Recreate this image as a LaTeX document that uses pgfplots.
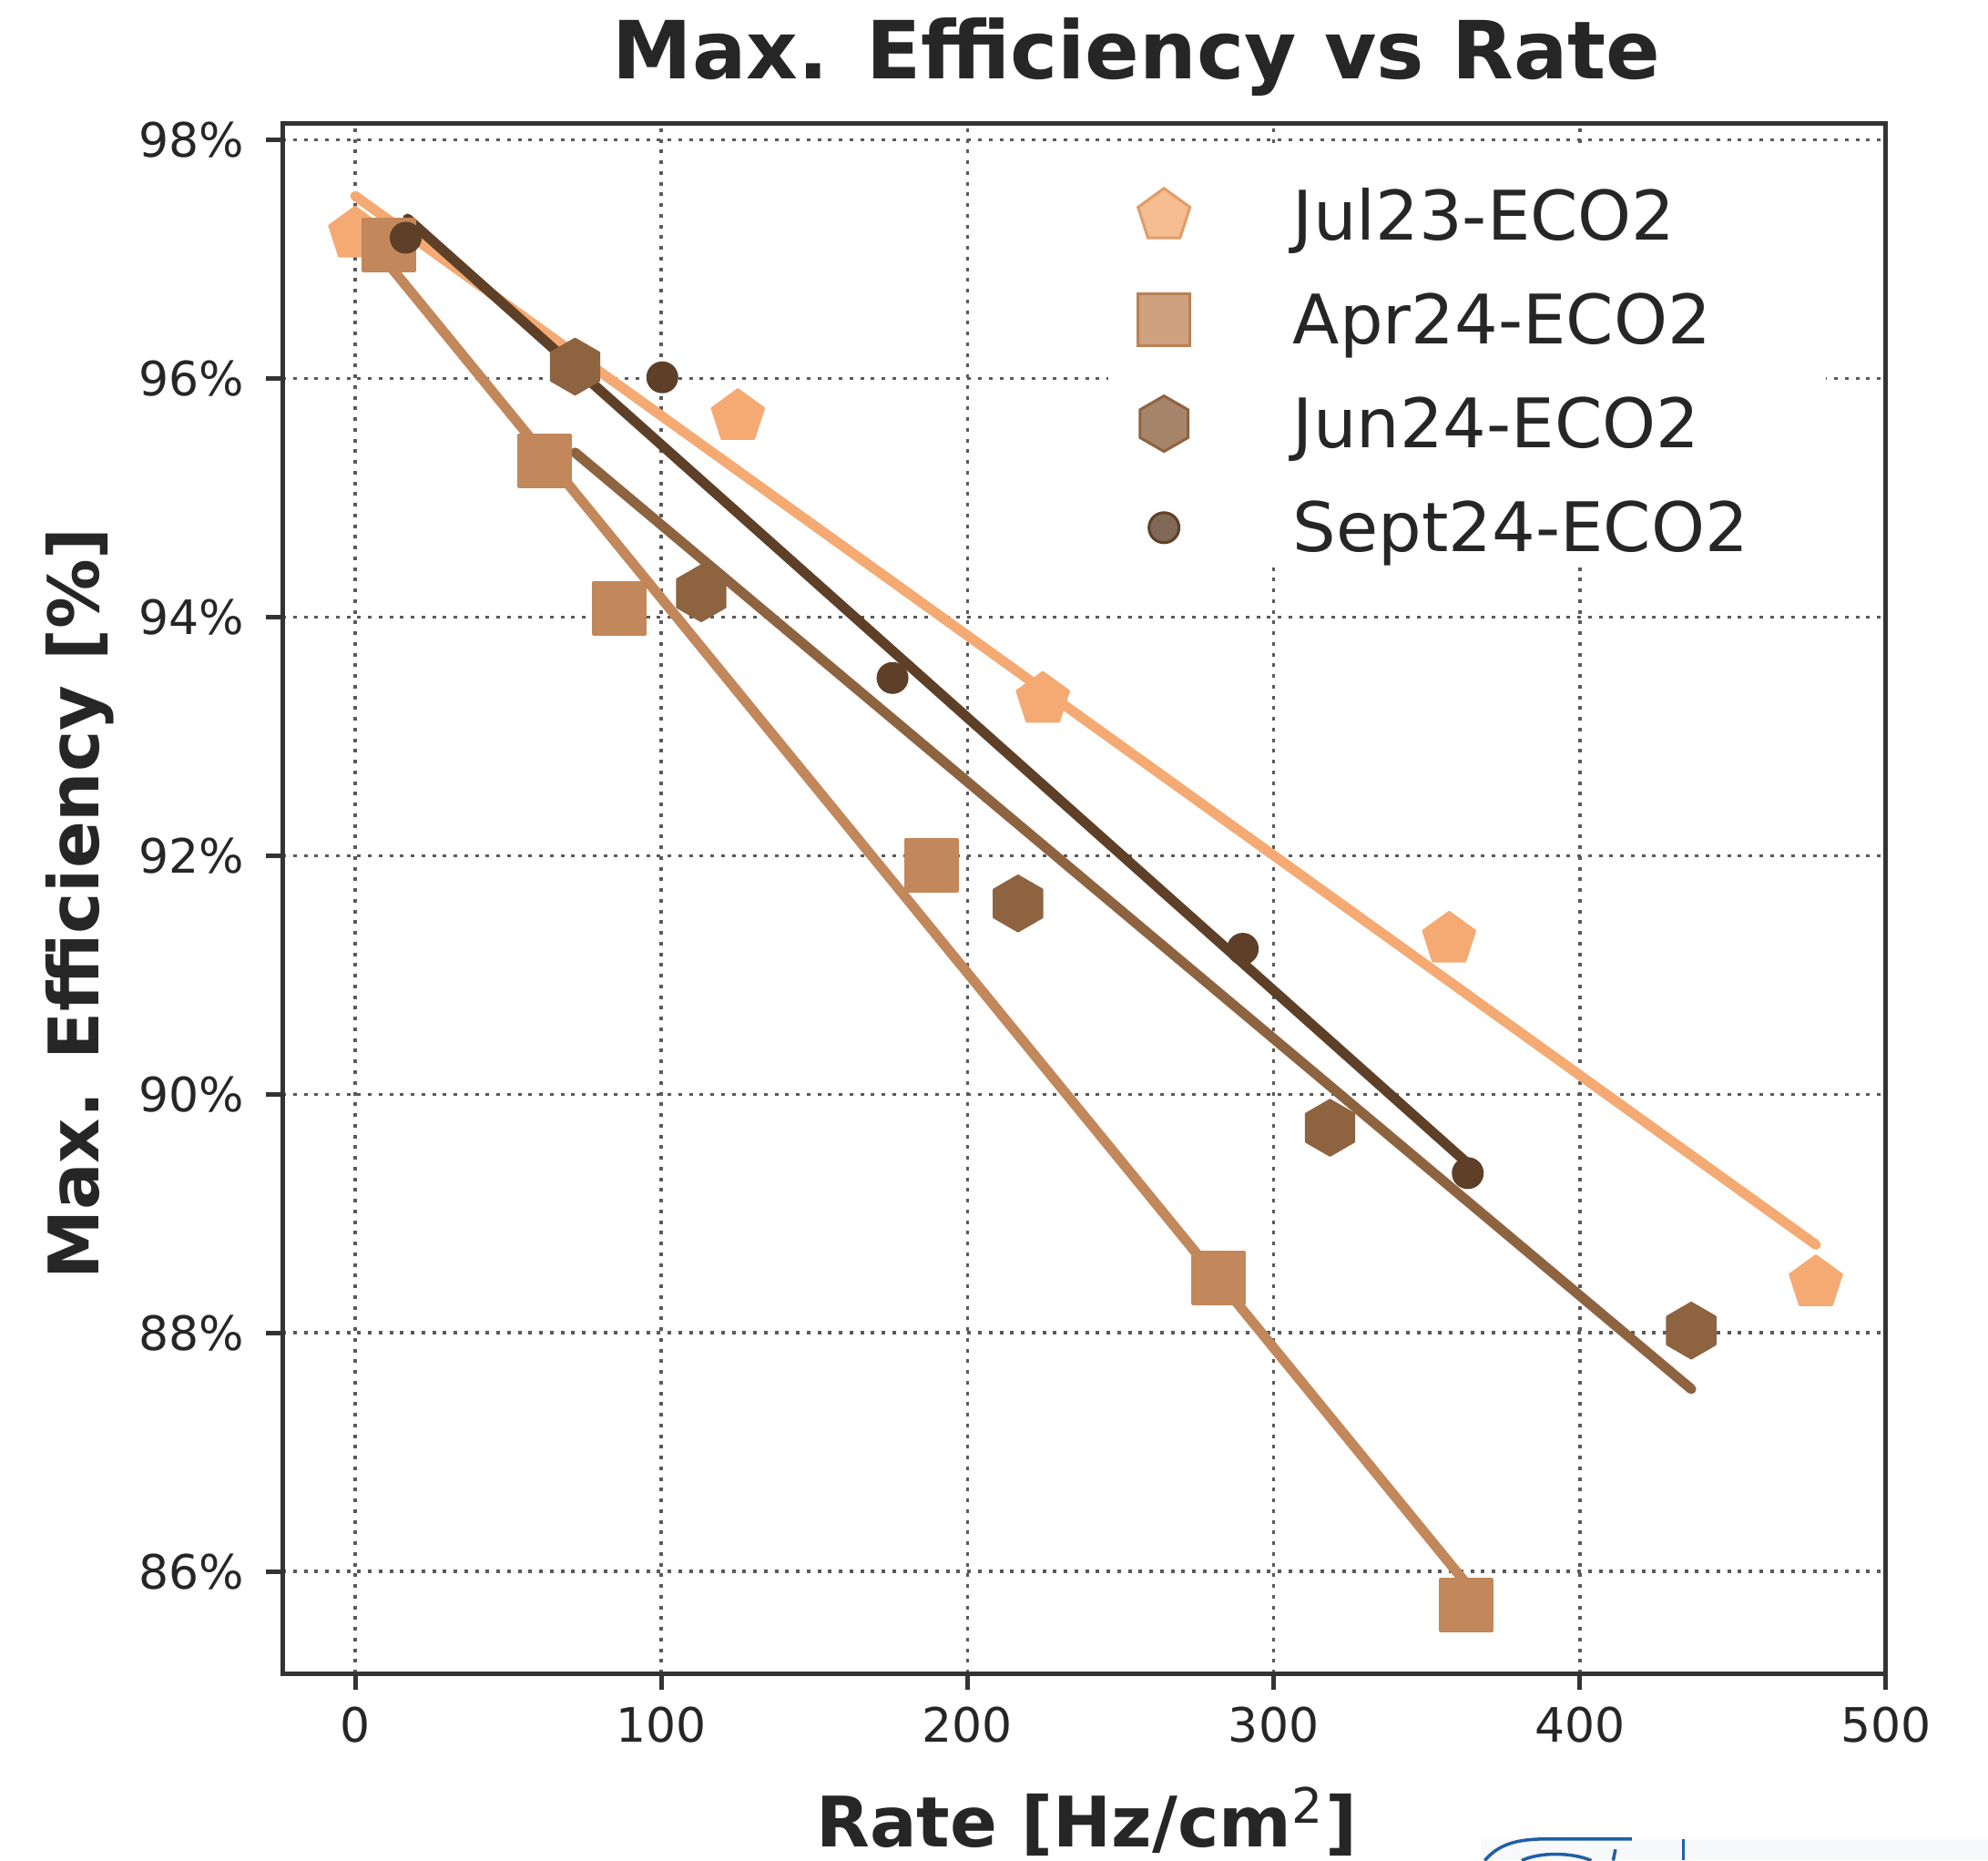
\documentclass[border=0pt]{standalone}
\usepackage{pgfplots}
\pgfplotsset{compat=1.18}
\usepackage{fontspec}
\setmainfont{DejaVu Sans}
\definecolor{txt}{HTML}{262626}
\definecolor{spine}{HTML}{333333}
\definecolor{gridc}{HTML}{5A5A5A}
\definecolor{cjul}{HTML}{F4AA72}
\definecolor{capr}{HTML}{C2875A}
\definecolor{cjun}{HTML}{8E6340}
\definecolor{csep}{HTML}{5E3F27}
\definecolor{logob}{HTML}{1F5FA8}
\definecolor{logobg}{HTML}{F8F9FA}
\pgfdeclareplotmark{hexagon*}{%
  \pgfpathmoveto{\pgfpointpolar{90}{\pgfplotmarksize}}%
  \pgfpathlineto{\pgfpointpolar{150}{\pgfplotmarksize}}%
  \pgfpathlineto{\pgfpointpolar{210}{\pgfplotmarksize}}%
  \pgfpathlineto{\pgfpointpolar{270}{\pgfplotmarksize}}%
  \pgfpathlineto{\pgfpointpolar{330}{\pgfplotmarksize}}%
  \pgfpathlineto{\pgfpointpolar{30}{\pgfplotmarksize}}%
  \pgfpathclose
  \pgfusepathqfillstroke}
\begin{document}
\begin{tikzpicture}
\path[use as bounding box] (-62.0pt,-41.06pt) rectangle (374.5pt,367.35pt);
\begin{axis}[
  at={(0pt,0pt)}, anchor=south west,
  scale only axis, width=352.1pt, height=340.3pt,
  xmin=-23.8, xmax=500, ymin=85.146, ymax=98.140,
  xtick={0,100,200,300,400,500},
  xticklabels={0,100,200,300,400,500},
  ytick={86,88,90,92,94,96,98},
  yticklabels={86\%,88\%,90\%,92\%,94\%,96\%,98\%},
  tick pos=left, tick align=outside, major tick length=3.6pt,
  every tick/.style={spine, line width=1pt},
  axis line style={spine, line width=1pt},
  grid=major,
  major grid style={gridc, line width=0.75pt, dash pattern=on 0.8pt off 1.55pt},
  xticklabel style={font=\fontsize{10.4}{12}\selectfont, text=txt, inner sep=0pt, anchor=north, yshift=-3.6pt},
  yticklabel style={font=\fontsize{10.4}{12}\selectfont, text=txt, inner sep=0pt, anchor=east, xshift=-4.6pt},
  title={Max. Efficiency vs Rate},
  title style={at={(axis description cs:0.5328,1.0288)}, anchor=base, yshift=-6pt, font=\bfseries\fontsize{17.6}{21}\selectfont, text=txt, inner sep=0pt},
  xlabel={Rate [Hz/cm\textsuperscript{\mdseries 2}]},
  xlabel style={at={(axis description cs:0.5015,-0.1117)}, anchor=base, font=\bfseries\fontsize{15.3}{18}\selectfont, text=txt, inner sep=0pt},
  ylabel={Max. Efficiency [\%]},
  ylabel style={at={(axis description cs:-0.1144,0.4966)}, anchor=base, font=\bfseries\fontsize{15.3}{18}\selectfont, text=txt, inner sep=0pt},
  legend cell align=left,
  legend style={at={(axis description cs:0.5150,0.9593)}, anchor=north west, draw=none, fill=none,
    inner sep=0pt, outer sep=0pt, row sep=6.83pt, column sep=0pt,
    font=\fontsize{15}{18}\selectfont, text=txt,
    nodes={inner sep=0pt, text height=11pt, text depth=3.5pt},
    cells={anchor=west}},
  legend image code/.code={%
    \path[draw=none, fill=none] (-12.25pt,-8pt) rectangle (28.35pt,8pt);
    \draw[#1,only marks] plot coordinates {(0pt,1.55pt)};},
]
% white legend background (covers the grid)
\fill[white] (rel axis cs:0.5149,0.9835) rectangle (rel axis cs:0.9625,0.7170);

% markers
\addplot[only marks, mark=pentagon*, mark size=6pt, color=cjul, mark options={line width=0.5pt, line join=round}, forget plot]
  coordinates {(0,97.21) (125.0,95.68) (224.6,93.31) (357.3,91.30) (477.1,88.42)};
\addplot[only marks, mark=square*, mark size=5.7pt, color=capr, mark options={line width=0.6pt, line join=round}, forget plot]
  coordinates {(11.1,97.12) (61.8,95.31) (86.2,94.07) (188.4,91.92) (282.0,88.46) (362.9,85.72)};
\addplot[only marks, mark=hexagon*, mark size=6.1pt, color=cjun, mark options={line width=0.5pt, line join=round}, forget plot]
  coordinates {(71.8,96.10) (113.0,94.20) (216.5,91.60) (318.4,89.72) (436.4,88.02)};
\addplot[only marks, mark=*, mark size=3.3pt, color=csep, mark options={line width=0.4pt}, forget plot]
  coordinates {(16.5,97.18) (100.3,96.01) (175.5,93.49) (289.9,91.22) (363.4,89.34)};

% fit lines
\addplot[cjul, line width=2.2pt, line cap=round, no marks, forget plot] coordinates {(0,97.53) (477.1,88.74)};
\addplot[capr, line width=2.2pt, line cap=round, no marks, forget plot] coordinates {(11.1,96.95) (362.9,85.90)};
\addplot[cjun, line width=2.2pt, line cap=round, no marks, forget plot] coordinates {(71.8,95.38) (436.4,87.53)};
\addplot[csep, line width=2.2pt, line cap=round, no marks, forget plot] coordinates {(17.1,97.34) (363.4,89.42)};

% legend
\addlegendimage{mark=pentagon*, mark size=6pt, color=cjul, mark options={fill=cjul!78!white, draw=cjul!92!black, line width=0.6pt}}
\addlegendentry{Jul23-ECO2}
\addlegendimage{mark=square*, mark size=5.7pt, color=capr, mark options={fill=capr!78!white, draw=capr!95!black, line width=0.6pt}}
\addlegendentry{Apr24-ECO2}
\addlegendimage{mark=hexagon*, mark size=6.1pt, color=cjun, mark options={fill=cjun!78!white, draw=cjun, line width=0.6pt}}
\addlegendentry{Jun24-ECO2}
\addlegendimage{mark=*, mark size=3.3pt, color=csep, mark options={fill=csep!78!white, draw=csep, line width=0.6pt}}
\addlegendentry{Sept24-ECO2}
\end{axis}
% fragment of a logo at the lower right edge
\fill[logobg] (263.2pt,-41.06pt) rectangle (374.5pt,-36.33pt);
\draw[logob, line width=0.7pt] (264.0pt,-41.06pt) .. controls (267pt,-37.5pt) and (271pt,-36.4pt) .. (277pt,-36.33pt) -- (296.3pt,-36.33pt);
\draw[logob, line width=0.7pt] (272.1pt,-41.06pt) .. controls (276pt,-39.2pt) and (283pt,-39.2pt) .. (287.4pt,-41.06pt);
\draw[logob, line width=0.7pt] (292.7pt,-38.6pt) -- (292.2pt,-41.06pt);
\draw[logob, line width=0.6pt] (307.7pt,-36.33pt) -- (307.7pt,-41.06pt);
\end{tikzpicture}
\end{document}
